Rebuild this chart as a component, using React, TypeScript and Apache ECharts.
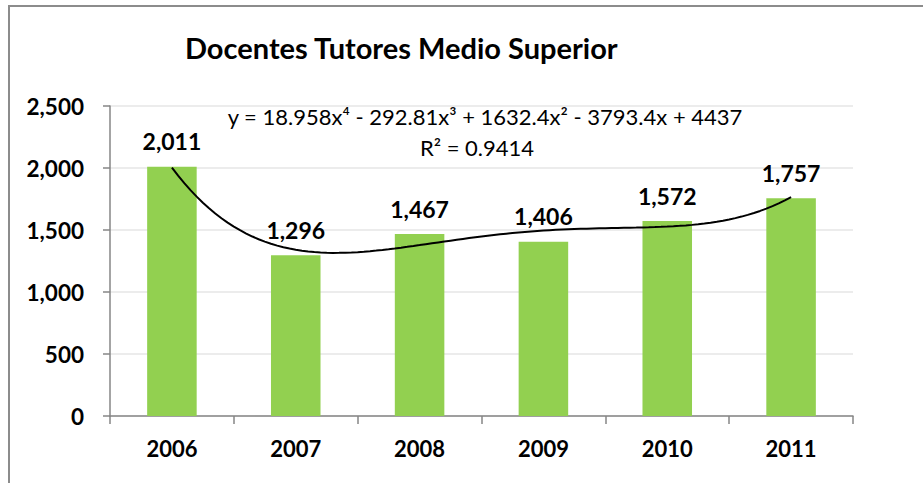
import React, { useEffect, useRef } from "react";
import * as echarts from "echarts";

const categories = ["2006", "2007", "2008", "2009", "2010", "2011"];
const docentes = [2011, 1296, 1467, 1406, 1572, 1757];
const yTicks = { min: 0, max: 2500, interval: 500 };
// Polynomial trendline coefficients shown in the chart (x^4 .. x^0)
const trendCoefs = [18.958, -292.81, 1632.4, -3793.4, 4437];
const titleText = "Docentes Tutores Medio Superior";
const equationText = "y = 18.958x⁴ - 292.81x³ + 1632.4x² - 3793.4x + 4437";
const r2Text = "R² = 0.9414";

const FONT = "Lato, 'Open Sans', sans-serif";

function trendAt(x: number) {
  return trendCoefs.reduce((acc, c) => acc * x + c, 0);
}

export default function App() {
  const ref = useRef<HTMLDivElement>(null);
  useEffect(() => {
    if (!ref.current) return;
    const chart = echarts.init(ref.current, undefined, { renderer: "svg" });
    const trend: number[][] = [];
    for (let i = 0; i <= 100; i++) {
      const x = 1 + (5 * i) / 100;
      trend.push([x, trendAt(x)]);
    }
    chart.setOption({
      animation: false,
      backgroundColor: "#ffffff",
      textStyle: { fontFamily: FONT },
      title: {
        text: titleText,
        left: 180,
        top: 28,
        textStyle: { fontFamily: FONT, fontSize: 29, fontWeight: "bold", color: "#000" },
      },
      grid: { left: 110, right: 70, top: 106, bottom: 67 },
      xAxis: [
        {
          type: "category",
          data: categories,
          axisLine: { lineStyle: { color: "#868686", width: 1.5 } },
          axisTick: { show: true, length: 8, alignWithLabel: false, lineStyle: { color: "#868686", width: 1.5 } },
          axisLabel: { margin: 21, fontFamily: FONT, fontSize: 22, fontWeight: "bold", color: "#000" },
        },
        { type: "value", min: 0.5, max: 6.5, show: false },
      ],
      yAxis: {
        type: "value",
        min: yTicks.min,
        max: yTicks.max,
        interval: yTicks.interval,
        axisLine: { show: true, lineStyle: { color: "#868686", width: 1.5 } },
        axisTick: { show: true, length: 7, lineStyle: { color: "#868686", width: 1.5 } },
        splitLine: { lineStyle: { color: "#e6e6e6", width: 1.5 } },
        axisLabel: {
          margin: 26,
          fontFamily: FONT,
          fontSize: 22.5,
          fontWeight: "bold",
          color: "#000",
          formatter: (v: number) => v.toLocaleString("en-US"),
        },
      },
      graphic: [
        {
          type: "rect",
          shape: { x: 9, y: 6, width: 1000, height: 600 },
          style: { fill: "none", stroke: "#8c8c8c", lineWidth: 2 },
          silent: true,
        },
        {
          type: "text",
          x: 485,
          y: 116,
          style: { text: equationText, font: `22px ${FONT}`, fill: "#000", textAlign: "center", textVerticalAlign: "middle" },
          z: 10,
        },
        {
          type: "text",
          x: 477,
          y: 147,
          style: { text: r2Text, font: `22px ${FONT}`, fill: "#000", textAlign: "center", textVerticalAlign: "middle" },
          z: 10,
        },
      ],
      series: [
        {
          type: "bar",
          data: docentes,
          barWidth: "40%",
          itemStyle: { color: "#92D050" },
          label: {
            show: true,
            position: "top",
            distance: 14,
            fontFamily: FONT,
            fontSize: 23,
            fontWeight: "bold",
            color: "#000",
            formatter: (p: any) => Number(p.value).toLocaleString("en-US"),
          },
        },
        {
          type: "line",
          xAxisIndex: 1,
          data: trend,
          showSymbol: false,
          symbol: "none",
          lineStyle: { color: "#000", width: 2 },
          z: 5,
        },
      ],
    });
    return () => chart.dispose();
  }, []);
  return <div ref={ref} style={{ position: "absolute", left: 0, top: 0, width: 923, height: 483 }} />;
}
